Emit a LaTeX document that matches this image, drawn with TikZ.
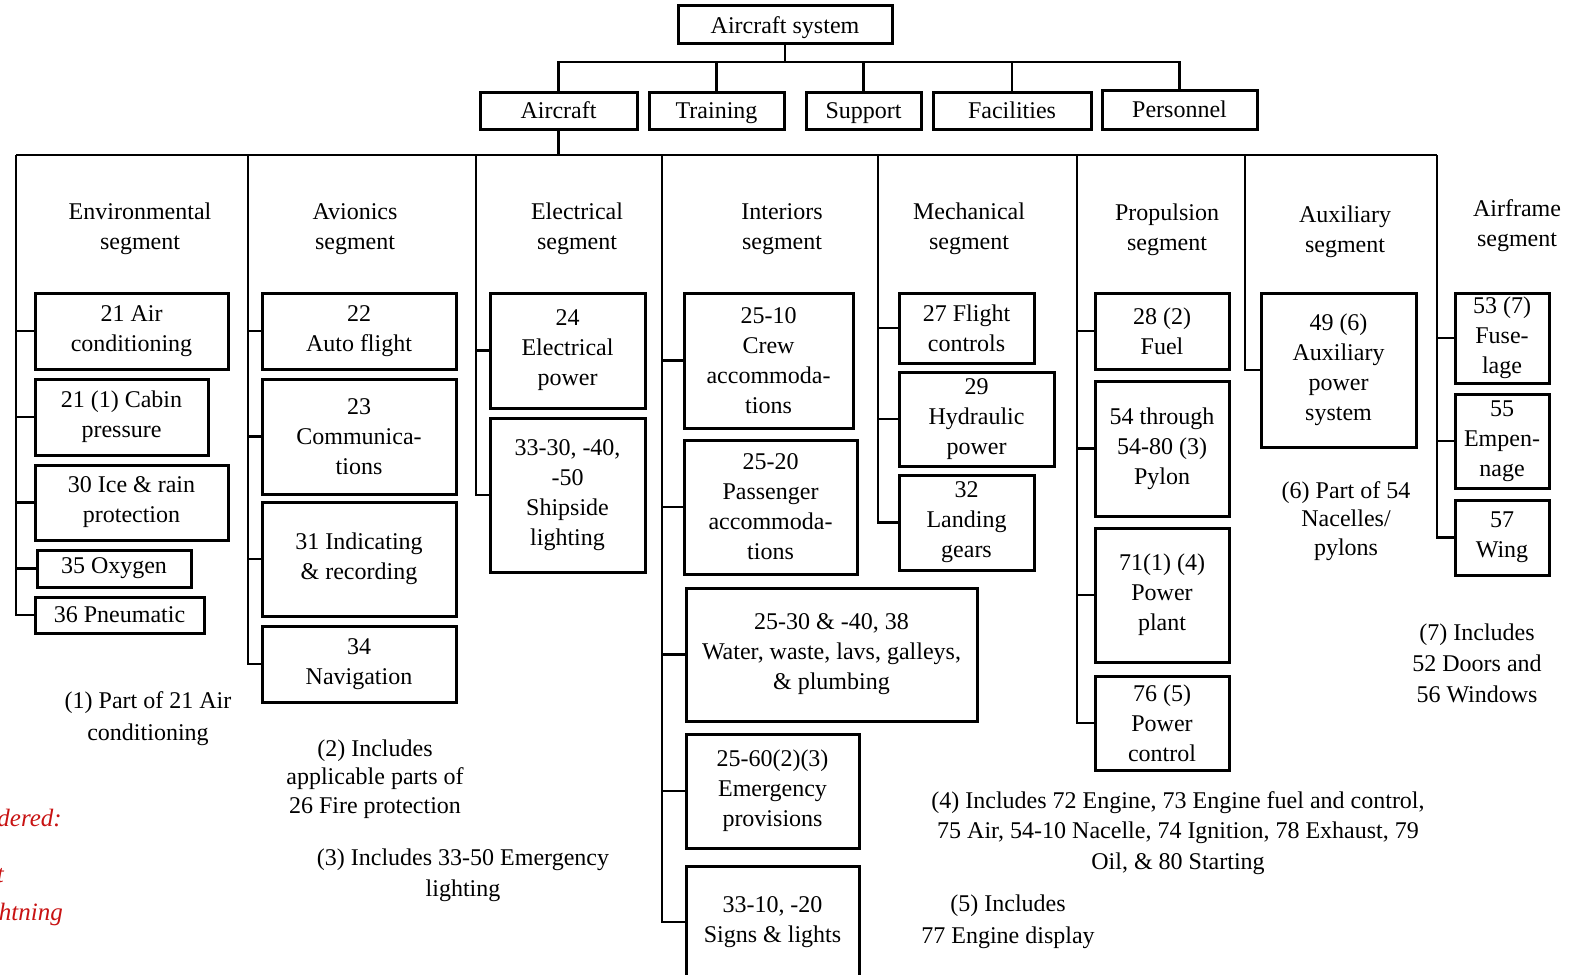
\documentclass[tikz,border=0pt]{standalone}
\usepackage{fontspec}
\setmainfont{Liberation Serif}
\definecolor{notered}{RGB}{200,18,18}
% box given by its corner coordinates: name, x1, y1, x2, y2, text
\newcommand\bx[6]{\node[blk,minimum width={(#4)-(#2)},minimum height={(#5)-(#3)}] (#1) at ({((#2)+(#4))/2},{((#3)+(#5))/2}) {#6};}
\begin{document}
\begin{tikzpicture}[x=1pt,y=-1pt,
  blk/.style={draw,line width=3pt,inner sep=0pt,align=center,font=\fontsize{24}{30}\selectfont},
  lbl/.style={inner sep=0pt,align=center,font=\fontsize{24}{30}\selectfont},
  wire/.style={line width=2.2pt},
  redtxt/.style={inner sep=0pt,text=notered,font=\fontsize{25}{30}\selectfont\itshape}]
\useasboundingbox (0,0) rectangle (1573,974);
\clip (0,0) rectangle (1573,974);

% top levels
\begin{scope}[every node/.append style={text depth=0pt}]
\bx{sys}{678}{6}{892}{44}{Aircraft system}
\bx{air}{480}{92}{637}{129}{Aircraft}
\bx{trn}{649}{92}{784}{129}{Training}
\bx{sup}{806}{92}{921}{129}{Support}
\bx{fac}{933}{92}{1091}{129}{Facilities}
\bx{per}{1102}{90}{1257}{129}{Personnel}
\end{scope}

\coordinate (bar) at (787,62);
\draw[wire] (sys.south) -- (sys.south |- bar);
\draw[wire] (air.north) |- (per.north |- bar) -- (per.north);
\draw[wire] (trn.north) -- (trn.north |- bar);
\draw[wire] (sup.north) -- (sup.north |- bar);
\draw[wire] (fac.north) -- (fac.north |- bar);

% segment columns
\coordinate (c1) at (16,155);
\coordinate (c2) at (248,155);
\coordinate (c3) at (476,155);
\coordinate (c4) at (662,155);
\coordinate (c5) at (878,155);
\coordinate (c6) at (1077,155);
\coordinate (c7) at (1245,155);
\coordinate (c8) at (1437,155);
\draw[wire] (air.south) -- (air.south |- c1);
\draw[wire] (c1) -- (c8);

\node[lbl] (envl) at (140,229) {Environmental\\segment};
\node[lbl] (avil) at (355,229) {Avionics\\segment};
\node[lbl] (elel) at (577,229) {Electrical\\segment};
\node[lbl] (intl) at (782,229) {Interiors\\segment};
\node[lbl] (mecl) at (969,229) {Mechanical\\segment};
\node[lbl] (prol) at (1167,230) {Propulsion\\segment};
\node[lbl] (auxl) at (1345,232) {Auxiliary\\segment};
\node[lbl] (afrl) at (1517,226) {Airframe\\segment};

% environmental
\bx{e1}{35}{293}{228}{369}{\fontsize{24}{34}\selectfont 21 Air\\conditioning}
\bx{e2}{35}{379}{208}{455}{\fontsize{24}{34}\selectfont 21 (1) Cabin\\pressure}
\bx{e3}{35}{465}{228}{540}{30 Ice \& rain\\protection}
\bx{e4}{37}{550}{191}{587}{35 Oxygen}
\bx{e5}{35}{597}{204}{633}{36 Pneumatic}
\draw[wire] (c1) |- (e5.west);
\foreach \b in {e1,e2,e3,e4} \draw[wire] (c1 |- \b.west) -- (\b.west);

% avionics
\bx{v1}{262}{293}{456}{369}{22\\Auto flight}
\bx{v2}{262}{379}{456}{494}{23\\Communica-\\tions}
\bx{v3}{262}{502}{456}{616}{31 Indicating\\\& recording}
\bx{v4}{262}{626}{456}{702}{34\\Navigation}
\draw[wire] (c2) |- (v4.west);
\foreach \b in {v1,v2,v3} \draw[wire] (c2 |- \b.west) -- (\b.west);

% electrical
\bx{l1}{490}{293}{645}{408}{24\\Electrical\\power}
\bx{l2}{490}{418}{645}{572}{\fontsize{24}{29}\selectfont 33-30, -40,\\-50\\Shipside\\lighting}
\draw[wire] (c3) |- (l2.west);
\draw[wire] (c3 |- l1.west) -- (l1.west);

% interiors
\bx{i1}{684}{293}{853}{428}{25-10\\Crew\\accommoda-\\tions}
\bx{i2}{684}{440}{857}{574}{\fontsize{24}{29}\selectfont 25-20\\Passenger\\accommoda-\\tions}
\bx{i3}{686}{588}{977}{721}{25-30 \& -40, 38\\Water, waste, lavs, galleys,\\\& plumbing}
\bx{i4}{686}{734}{859}{848}{\fontsize{24}{32}\selectfont 25-60(2)(3)\\Emergency\\provisions}
\bx{i5}{686}{866}{859}{978}{33-10, -20\\Signs \& lights}
\draw[wire] (c4) |- (i5.west);
\foreach \b in {i1,i2,i3,i4} \draw[wire] (c4 |- \b.west) -- (\b.west);

% mechanical
\bx{m1}{899}{293}{1034}{363}{27 Flight\\controls}
\bx{m2}{899}{372}{1054}{466}{\fontsize{24}{29}\selectfont 29\\Hydraulic\\power}
\bx{m3}{899}{475}{1034}{570}{\fontsize{24}{29}\selectfont 32\\Landing\\gears}
\draw[wire] (c5) |- (m3.west);
\foreach \b in {m1,m2} \draw[wire] (c5 |- \b.west) -- (\b.west);

% propulsion
\bx{p1}{1095}{293}{1229}{369}{\fontsize{24}{32}\selectfont 28 (2)\\Fuel}
\bx{p2}{1095}{381}{1229}{516}{\fontsize{24}{29}\selectfont 54 through\\54-80 (3)\\Pylon}
\bx{p3}{1095}{528}{1229}{662}{71(1) (4)\\Power\\plant}
\bx{p4}{1095}{676}{1229}{770}{\fontsize{24}{29}\selectfont 76 (5)\\Power\\control}
\draw[wire] (c6) |- (p4.west);
\foreach \b in {p1,p2,p3} \draw[wire] (c6 |- \b.west) -- (\b.west);

% auxiliary
\bx{x1}{1261}{293}{1416}{447}{\fontsize{24}{29.5}\selectfont 49 (6)\\Auxiliary\\power\\system}
\draw[wire] (c7) |- (x1.west);

% airframe
\bx{f1}{1455}{293}{1549}{383}{\fontsize{24}{29}\selectfont 53 (7)\\Fuse-\\lage}
\bx{f2}{1455}{394}{1549}{488}{\fontsize{24}{29}\selectfont 55\\Empen-\\nage}
\bx{f3}{1455}{500}{1549}{575}{57\\Wing}
\draw[wire] (c8) |- (f3.west);
\foreach \b in {f1,f2} \draw[wire] (c8 |- \b.west) -- (\b.west);

% notes
\node[lbl,font=\fontsize{24}{32}\selectfont] (n1) at (148,719) {(1) Part of 21 Air\\conditioning};
\node[lbl,font=\fontsize{24}{28.5}\selectfont] (n2) at (375,779) {(2) Includes\\applicable parts of\\26 Fire protection};
\node[lbl,font=\fontsize{24}{31}\selectfont] (n3) at (463,875) {(3) Includes 33-50 Emergency\\lighting};
\node[lbl,font=\fontsize{24}{30.5}\selectfont] (n4) at (1178,833) {(4) Includes 72 Engine, 73 Engine fuel and control,\\75 Air, 54-10 Nacelle, 74 Ignition, 78 Exhaust, 79\\Oil, \& 80 Starting};
\node[lbl,font=\fontsize{24}{32}\selectfont] (n5) at (1008,922) {(5) Includes\\77 Engine display};
\node[lbl,font=\fontsize{24}{28.5}\selectfont] (n6) at (1346,521) {(6) Part of 54\\Nacelles/\\pylons};
\node[lbl,font=\fontsize{24}{31}\selectfont] (n7) at (1477,663) {(7) Includes\\52 Doors and\\56 Windows};

% margin note running in from the left
\node[redtxt,anchor=east] (r1) at (62,818) {dered:};
\node[redtxt,anchor=east] (r2) at (4,876) {t};
\node[redtxt,anchor=east] (r3) at (63,914) {htning};
\end{tikzpicture}
\end{document}
